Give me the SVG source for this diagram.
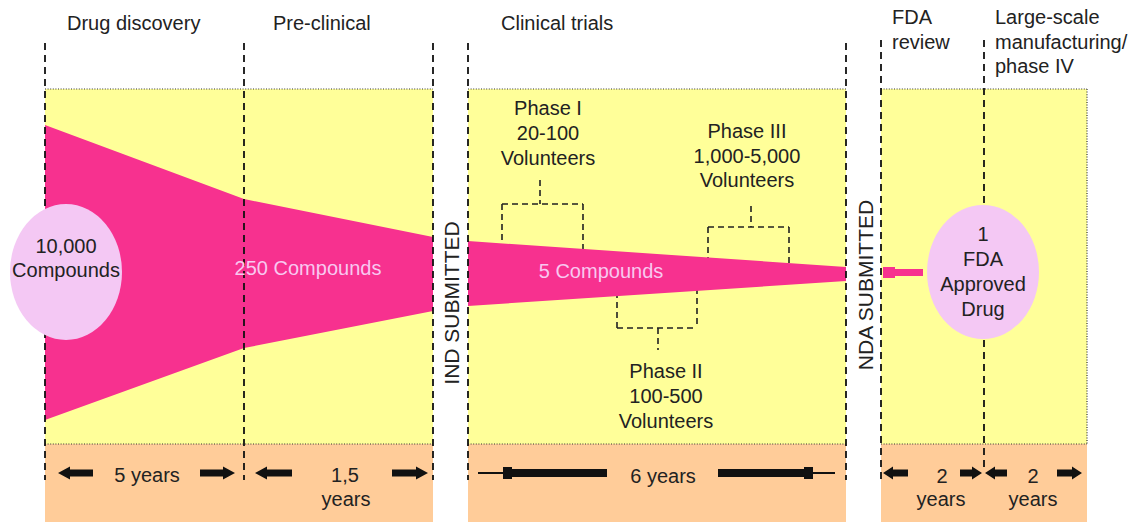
<svg xmlns="http://www.w3.org/2000/svg" width="1141" height="522" viewBox="0 0 1141 522">
<style>
text{font-family:"Liberation Sans",Arial,sans-serif;font-size:20px;fill:#222}
.mid{text-anchor:middle}
.lt{fill:#F8C8F0}
.vt{font-size:21px}
.yel{fill:#FFFF99}
.org{fill:#FFCC99}
.pink{fill:#F7318F}
.node{fill:#F4C8F4}
.dash{stroke:#111;stroke-width:1.8;stroke-dasharray:7 5;fill:none}
.dot{stroke:#333;stroke-width:1.2;stroke-dasharray:1 1.6;fill:none}
.br{stroke:#222;stroke-width:1.6;stroke-dasharray:6 4;fill:none}
.arr{fill:#111}
</style>
<rect width="1141" height="522" fill="#fff"/>
<g id="bands">
<rect class="yel" x="45" y="89" width="388" height="355"/>
<rect class="yel" x="468" y="89" width="378" height="355"/>
<rect class="yel" x="881" y="89" width="206" height="355"/>
<rect class="org" x="45" y="444" width="388" height="78"/>
<rect class="org" x="468" y="444" width="378" height="78"/>
<rect class="org" x="881" y="444" width="206" height="78"/>
<path class="dot" d="M45 89H433M468 89H846M881 89H1087M45 444H433M468 444H846M881 444H1087M1087 89V444"/>
</g>
<g id="connectors">
<path class="br" d="M540 180V204M502 204H583M502 204V245M583 204V252"/>
<path class="br" d="M751 206V227M708 227H789M708 227V262M789 227V266"/>
<path class="br" d="M617 292V328M697 288V328M617 328H697M658 328V350"/>
</g>
<g id="funnel">
<polygon class="pink" points="45,125 244,199 433,237 433,311 244,348 45,420"/>
<polygon class="pink" points="468,241 846,267 846,281 468,306"/>
<rect class="pink" x="883" y="269" width="40" height="7"/>
<rect class="pink" x="883" y="267" width="12" height="11"/>
</g>
<g id="dividers">
<path class="dash" d="M45 43V480M244 43V480M433 43V480M468 43V480M846 43V480M881 40V480M984 40V470"/>
</g>
<g id="stage-labels">
<text x="67" y="30">Drug discovery</text>
<text x="273" y="30">Pre-clinical</text>
<text x="501" y="30">Clinical trials</text>
<text x="892" y="24">FDA</text>
<text x="892" y="49">review</text>
<text x="995" y="24">Large-scale</text>
<text x="995" y="49">manufacturing/</text>
<text x="995" y="73">phase IV</text>
</g>
<g id="node-10000">
<ellipse class="node" cx="66" cy="272" rx="56" ry="68"/>
<text class="mid" x="66" y="253">10,000</text>
<text class="mid" x="66" y="277">Compounds</text>
</g>
<g id="node-250">
<text class="mid lt" x="308" y="275">250 Compounds</text>
</g>
<g id="node-5">
<text class="mid lt" x="601" y="278">5 Compounds</text>
</g>
<g id="node-ind">
<text class="mid vt" transform="translate(459,303) rotate(-90)">IND SUBMITTED</text>
</g>
<g id="node-nda">
<text class="mid vt" transform="translate(873,285) rotate(-90)">NDA SUBMITTED</text>
</g>
<g id="node-phase1">
<text class="mid" x="548" y="115">Phase I</text>
<text class="mid" x="548" y="140">20-100</text>
<text class="mid" x="548" y="165">Volunteers</text>
</g>
<g id="node-phase3">
<text class="mid" x="747" y="138">Phase III</text>
<text class="mid" x="747" y="163">1,000-5,000</text>
<text class="mid" x="747" y="187">Volunteers</text>
</g>
<g id="node-phase2">
<text class="mid" x="666" y="378">Phase II</text>
<text class="mid" x="666" y="403">100-500</text>
<text class="mid" x="666" y="428">Volunteers</text>
</g>
<g id="node-fda">
<ellipse class="node" cx="983" cy="272" rx="56" ry="67"/>
<text class="mid" x="983" y="241">1</text>
<text class="mid" x="983" y="266">FDA</text>
<text class="mid" x="983" y="291">Approved</text>
<text class="mid" x="983" y="316">Drug</text>
</g>
<g id="durations">
<polygon class="arr" points="58,473 70,466.5 70,469.5 93,469.5 93,476.5 70,476.5 70,479.5"/>
<polygon class="arr" points="235,473 223,466.5 223,469.5 200,469.5 200,476.5 223,476.5 223,479.5"/>
<text class="mid" x="147" y="482">5 years</text>
<polygon class="arr" points="255,473 267,466.5 267,469.5 292,469.5 292,476.5 267,476.5 267,479.5"/>
<polygon class="arr" points="428,473 416,466.5 416,469.5 392,469.5 392,476.5 416,476.5 416,479.5"/>
<text class="mid" x="345" y="482">1,5</text>
<text class="mid" x="346" y="506">years</text>
<line x1="478" y1="473" x2="504" y2="473" stroke="#111" stroke-width="2"/>
<rect class="arr" x="503" y="467" width="9" height="12"/>
<rect class="arr" x="512" y="469" width="95" height="8"/>
<rect class="arr" x="718" y="469" width="89" height="8"/>
<rect class="arr" x="804" y="467" width="9" height="12"/>
<line x1="812" y1="473" x2="835" y2="473" stroke="#111" stroke-width="2"/>
<text class="mid" x="663" y="483">6 years</text>
<polygon class="arr" points="883,473 893,466.5 893,469.5 908,469.5 908,476.5 893,476.5 893,479.5"/>
<polygon class="arr" points="982,473 972,466.5 972,469.5 960,469.5 960,476.5 972,476.5 972,479.5"/>
<text class="mid" x="942" y="483">2</text>
<text class="mid" x="941" y="506">years</text>
<polygon class="arr" points="985,473 995,466.5 995,469.5 1007,469.5 1007,476.5 995,476.5 995,479.5"/>
<polygon class="arr" points="1082,473 1072,466.5 1072,469.5 1057,469.5 1057,476.5 1072,476.5 1072,479.5"/>
<text class="mid" x="1033" y="483">2</text>
<text class="mid" x="1033" y="506">years</text>
</g>
</svg>
